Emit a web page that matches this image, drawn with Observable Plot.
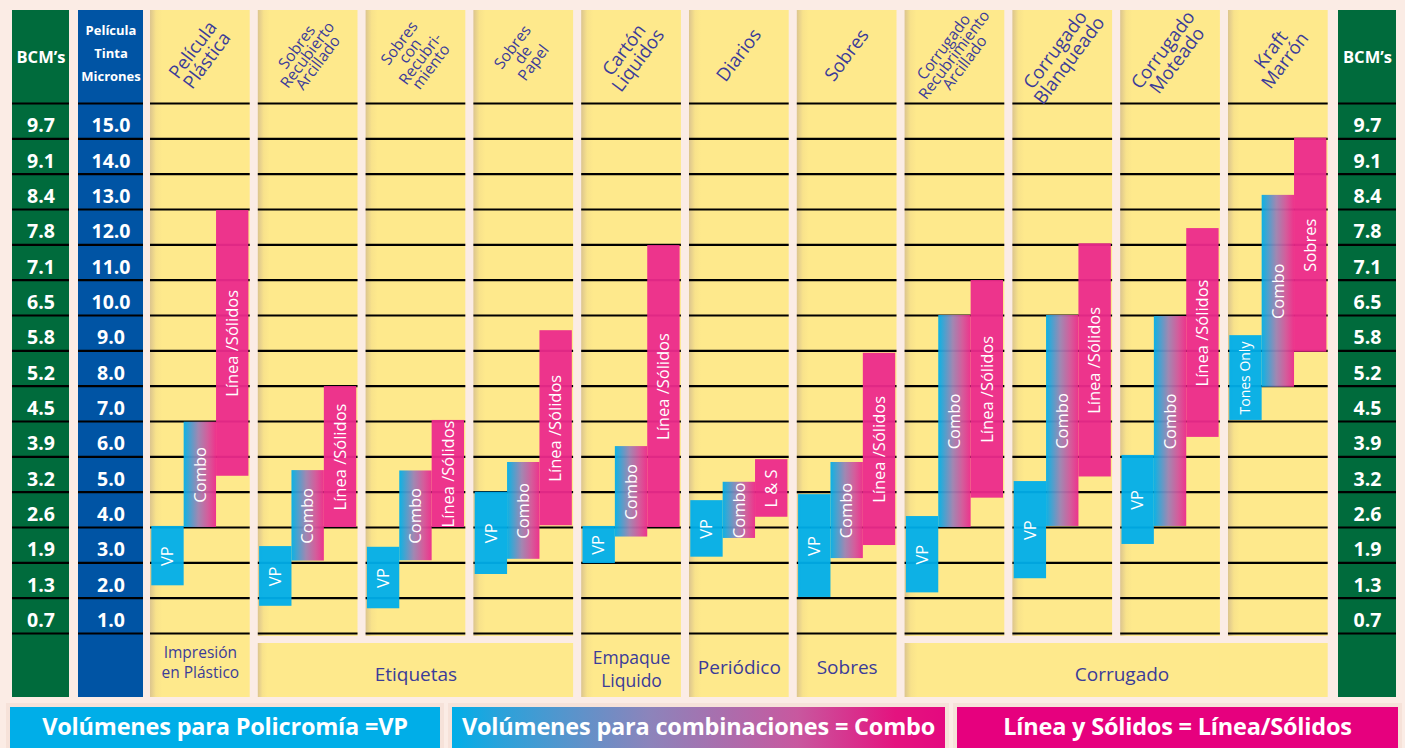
<!DOCTYPE html>
<html><head><meta charset="utf-8">
<script src="https://cdn.jsdelivr.net/npm/d3@7"></script>
<script src="https://cdn.jsdelivr.net/npm/@observablehq/plot@0.6"></script>
<style>
html,body{margin:0;padding:0;background:#fbece5;width:1405px;height:748px;overflow:hidden;font-family:"Open Sans",sans-serif}
#chart{position:absolute;left:0;top:0}
.lg{position:absolute;top:707px;height:48px;color:#fff;font-weight:700;font-size:23.5px;display:flex;align-items:flex-start;justify-content:center;padding-top:3px;box-sizing:border-box;box-shadow:0 0 0 4px #f6e2d9;white-space:nowrap;letter-spacing:-0.2px}
</style></head><body>
<div id="chart"></div>
<div id="legend"></div>
<script>
// ---------------- data ----------------
const categories = ["Película\nPlástica","Sobres\nRecubierto\nArcillado","Sobres\ncon\nRecubri-\nmiento","Sobres\nde\nPapel","Cartón\nLiquidos","Diarios","Sobres","Corrugado\nRecubrimiento\nArcillado","Corrugado\nBlanqueado","Corrugado\nMoteado","Kraft\nMarrón"];
const micronTicks = [1,2,3,4,5,6,7,8,9,10,11,12,13,14,15];
const micronLabels = ["1.0","2.0","3.0","4.0","5.0","6.0","7.0","8.0","9.0","10.0","11.0","12.0","13.0","14.0","15.0"];
const bcmLabels = ["0.7","1.3","1.9","2.6","3.2","3.9","4.5","5.2","5.8","6.5","7.1","7.8","8.4","9.1","9.7"];
// VP (policromía) bars, micron range
const vpLow  = [1.85,1.27,1.20,2.17,2.48,2.66,1.52,1.65,2.05,3.02,6.53];
const vpHigh = [3.53,2.96,2.94,4.50,3.53,4.26,4.43,3.81,4.80,5.54,8.93];
const vpLabels = ["VP","VP","VP","VP","VP","VP","VP","VP","VP","VP","Tones Only"];
// Combo bars
const comboLow  = [3.50,2.55,2.56,2.60,3.23,3.19,2.62,3.50,3.53,3.53,7.47];
const comboHigh = [6.48,5.11,5.10,5.34,5.79,4.78,5.34,9.50,9.50,9.47,12.90];
const comboLabels = ["Combo","Combo","Combo","Combo","Combo","Combo","Combo","Combo","Combo","Combo","Combo"];
// Línea / Sólidos bars
const lsLow  = [4.95,3.50,3.50,3.55,3.50,3.79,2.99,4.33,4.93,6.05,8.46];
const lsHigh = [12.47,7.49,6.53,9.07,11.48,5.42,8.43,10.49,11.53,11.96,14.52];
const lsLabels = ["Línea /Sólidos","Línea /Sólidos","Línea /Sólidos","Línea /Sólidos","Línea /Sólidos","L & S","Línea /Sólidos","Línea /Sólidos","Línea /Sólidos","Línea /Sólidos","Sobres"];
// groups (footer)
const groupNames = ["Impresión\nen Plástico","Etiquetas","Empaque\nLiquido","Periódico","Sobres","Corrugado"];
const groupFirst = [0,1,4,5,6,7];
const groupLast  = [0,3,4,5,6,10];
// legend
const legendTexts = ["Volúmenes para Policromía =VP","Volúmenes para combinaciones = Combo","Línea y Sólidos = Línea/Sólidos"];

// ---------------- layout ----------------
const W = 1405, H = 700;
const TOP = 103, BOT = 633;             // grid top/bottom in px
const LEFT = 150, RIGHT = 1327.7;       // first col left / last col right
const COLW = 0.925;                     // column width in x units (pitch = 1)
const unitY = (BOT - TOP) / 15;
const unitX = (RIGHT - LEFT) / (categories.length - 1 + COLW);
const py = p => 15.5 - (p - TOP) / unitY;   // layout helper for frame decorations
const px = p => (p - LEFT) / unitX;

const C = {cyan:"#00aeea", magenta:"#ec2a8c", yellow:"#fee98c", green:"#006b3c", blue:"#0054a4", ink:"#3b3c99"};

const multiCol = new Set();
groupFirst.forEach((f,g) => { if (groupLast[g] > f) for (let i=f;i<=groupLast[g];i++) multiCol.add(i); });

const sideCols = [
  {x1:px(12), x2:px(69), fill:C.green, head:"BCM’s", labels:bcmLabels},
  {x1:px(78), x2:px(143), fill:C.blue, head:"Película\nTinta\nMicrones", labels:micronLabels},
  {x1:px(1338), x2:px(1396), fill:C.green, head:"BCM’s", labels:bcmLabels}
];
const colBg = categories.map((c,i) => ({x1:i, x2:i+COLW, y1: multiCol.has(i) ? py(636) : py(697), y2: py(10)}));
const groupBoxes = groupNames.map((n,g) => ({name:n, first:groupFirst[g], last:groupLast[g]})).filter(d => d.last > d.first);

const levels = d3.range(0.5, 15.51, 1);
const gridLines = [];
for (const c of colBg) for (const l of levels) gridLines.push({x1:c.x1, x2:c.x2, y:l});
for (const s of sideCols) for (const l of levels) gridLines.push({x1:s.x1, x2:s.x2, y:l});

const PAD = 0.012, BW = (COLW - 2*PAD)/3;
function barsOf(lo, hi, labels, k) {
  return categories.map((c,i) => ({cat:c, lo:lo[i], hi:hi[i], label:labels[i], x1:i+PAD+k*BW, x2:i+PAD+(k+1)*BW}));
}
const vpBars = barsOf(vpLow, vpHigh, vpLabels, 0);
const comboBars = barsOf(comboLow, comboHigh, comboLabels, 1);
const lsBars = barsOf(lsLow, lsHigh, lsLabels, 2);
const allBars = [...vpBars, ...comboBars, ...lsBars];

const sideTicks = [];
sideCols.forEach(s => micronTicks.forEach((m,j) => sideTicks.push({x:(s.x1+s.x2)/2, y:m, text:s.labels[j]})));

const heads = categories.map((c,i) => ({text:c, i, n:c.split("\n").length}));
const groups = groupNames.map((n,g) => ({text:n, first:groupFirst[g], last:groupLast[g], two:n.includes("\n")}));
const gx = d => (d.first + d.last + COLW)/2 + (d.last - d.first > 2 ? 0.05 : 0);

const svg = Plot.plot({
  width: W, height: H,
  marginLeft: LEFT, marginRight: W - RIGHT, marginTop: TOP, marginBottom: H - BOT,
  x: {domain:[0, categories.length - 1 + COLW], axis:null},
  y: {domain:[0.5, 15.5], axis:null},
  style: {background:"transparent", fontFamily:"'Open Sans', sans-serif", overflow:"visible"},
  marks: [
    Plot.rect(sideCols, {x1:"x1", x2:"x2", y1:py(697), y2:py(10), fill:"fill"}),
    Plot.rect(colBg, {x1:"x1", x2:"x2", y1:"y1", y2:"y2", fill:"url(#colGrad)"}),
    Plot.rect(groupBoxes, {x1:"first", x2:d => d.last + COLW, y1:py(697), y2:py(643), fill:"url(#boxGrad)"}),
    Plot.ruleY(gridLines, {x1:"x1", x2:"x2", y:"y", stroke:"#000", strokeWidth:2.2}),
    Plot.rect(vpBars, {x1:"x1", x2:"x2", y1:"lo", y2:"hi", fill:C.cyan, fillOpacity:0.95}),
    Plot.rect(comboBars, {x1:"x1", x2:"x2", y1:"lo", y2:"hi", fill:"url(#comboGrad)", fillOpacity:0.95}),
    Plot.rect(lsBars, {x1:"x1", x2:"x2", y1:"lo", y2:"hi", fill:C.magenta, fillOpacity:0.95}),
    Plot.text(allBars, {x:d => (d.x1+d.x2)/2, y:d => (d.lo+d.hi)/2, text:"label", rotate:-90, fill:"#fff", fontSize:d => d.label === "Tones Only" ? 14 : 16.5}),
    // column headers
    Plot.text(heads.filter(d => d.n <= 2), {x:d => d.i + COLW/2, y:py(55), text:"text", rotate:-53, fill:C.ink, fontSize:18.5, lineHeight:0.95}),
    Plot.text(heads.filter(d => d.n > 2), {x:d => d.i + COLW/2, y:py(55), text:"text", rotate:-53, fill:C.ink, fontSize:15.5, lineHeight:0.85, letterSpacing:-0.6}),
    // side column headers
    Plot.text(sideCols.filter(d => !d.head.includes("\n")), {x:d => (d.x1+d.x2)/2, y:py(57), text:"head", fill:"#fff", fontWeight:700, fontSize:16.5}),
    Plot.text(sideCols.filter(d => d.head.includes("\n")), {x:d => (d.x1+d.x2)/2, y:py(50), text:"head", fill:"#fff", fontWeight:700, fontSize:13, lineHeight:1.77}),
    // tick labels
    Plot.text(sideTicks, {x:"x", y:"y", text:"text", fill:"#fff", fontWeight:700, fontSize:19.5, dy:5}),
    // group footers
    Plot.text(groups.filter(d => d.first === 0), {x:gx, y:py(661), text:"text", fill:C.ink, fontSize:15.5, lineHeight:1.3}),
    Plot.text(groups.filter(d => d.first > 0 && d.two), {x:gx, y:py(668), text:"text", fill:C.ink, fontSize:17.5, lineHeight:1.3}),
    Plot.text(groups.filter(d => d.first > 0 && !d.two), {x:gx, y:d => d.last > d.first ? py(674) : py(667), text:"text", fill:C.ink, fontSize:19})
  ]
});

const defs = d3.select(svg).insert("defs", ":first-child");
function grad(id, stops) {
  const g = defs.append("linearGradient").attr("id", id).attr("x1","0").attr("x2","1").attr("y1","0").attr("y2","0");
  stops.forEach(([o,c]) => g.append("stop").attr("offset", o).attr("stop-color", c));
}
grad("comboGrad", [[0,"#00aeea"],[0.1,"#22a6dc"],[0.45,"#9c82b4"],[0.75,"#d2559c"],[1,"#ec2a8c"]]);
grad("colGrad", [[0,"#dcc58e"],[0.06,"#f8e28b"],[0.12,"#fee98c"],[1,"#fee98c"]]);
grad("boxGrad", [[0,"#dcc58e"],[0.015,"#f8e28b"],[0.03,"#fee98c"],[1,"#fee98c"]]);
document.getElementById("chart").appendChild(svg);

// legend below the chart
const lgStyles = [
  {left:10, width:430, bg:"#00aee8"},
  {left:452, width:493, bg:"linear-gradient(90deg,#00aee8 0%,#2ba2da 10%,#8c84bb 40%,#c8589f 70%,#e4137f 90%,#e4097f 100%)"},
  {left:957, width:441, bg:"#e6007e"}
];
const lg = document.getElementById("legend");
legendTexts.forEach((t,i) => {
  const d = document.createElement("div");
  d.className = "lg";
  d.style.left = lgStyles[i].left + "px";
  d.style.width = lgStyles[i].width + "px";
  d.style.background = lgStyles[i].bg;
  d.textContent = t;
  lg.appendChild(d);
});
</script>
</body></html>
